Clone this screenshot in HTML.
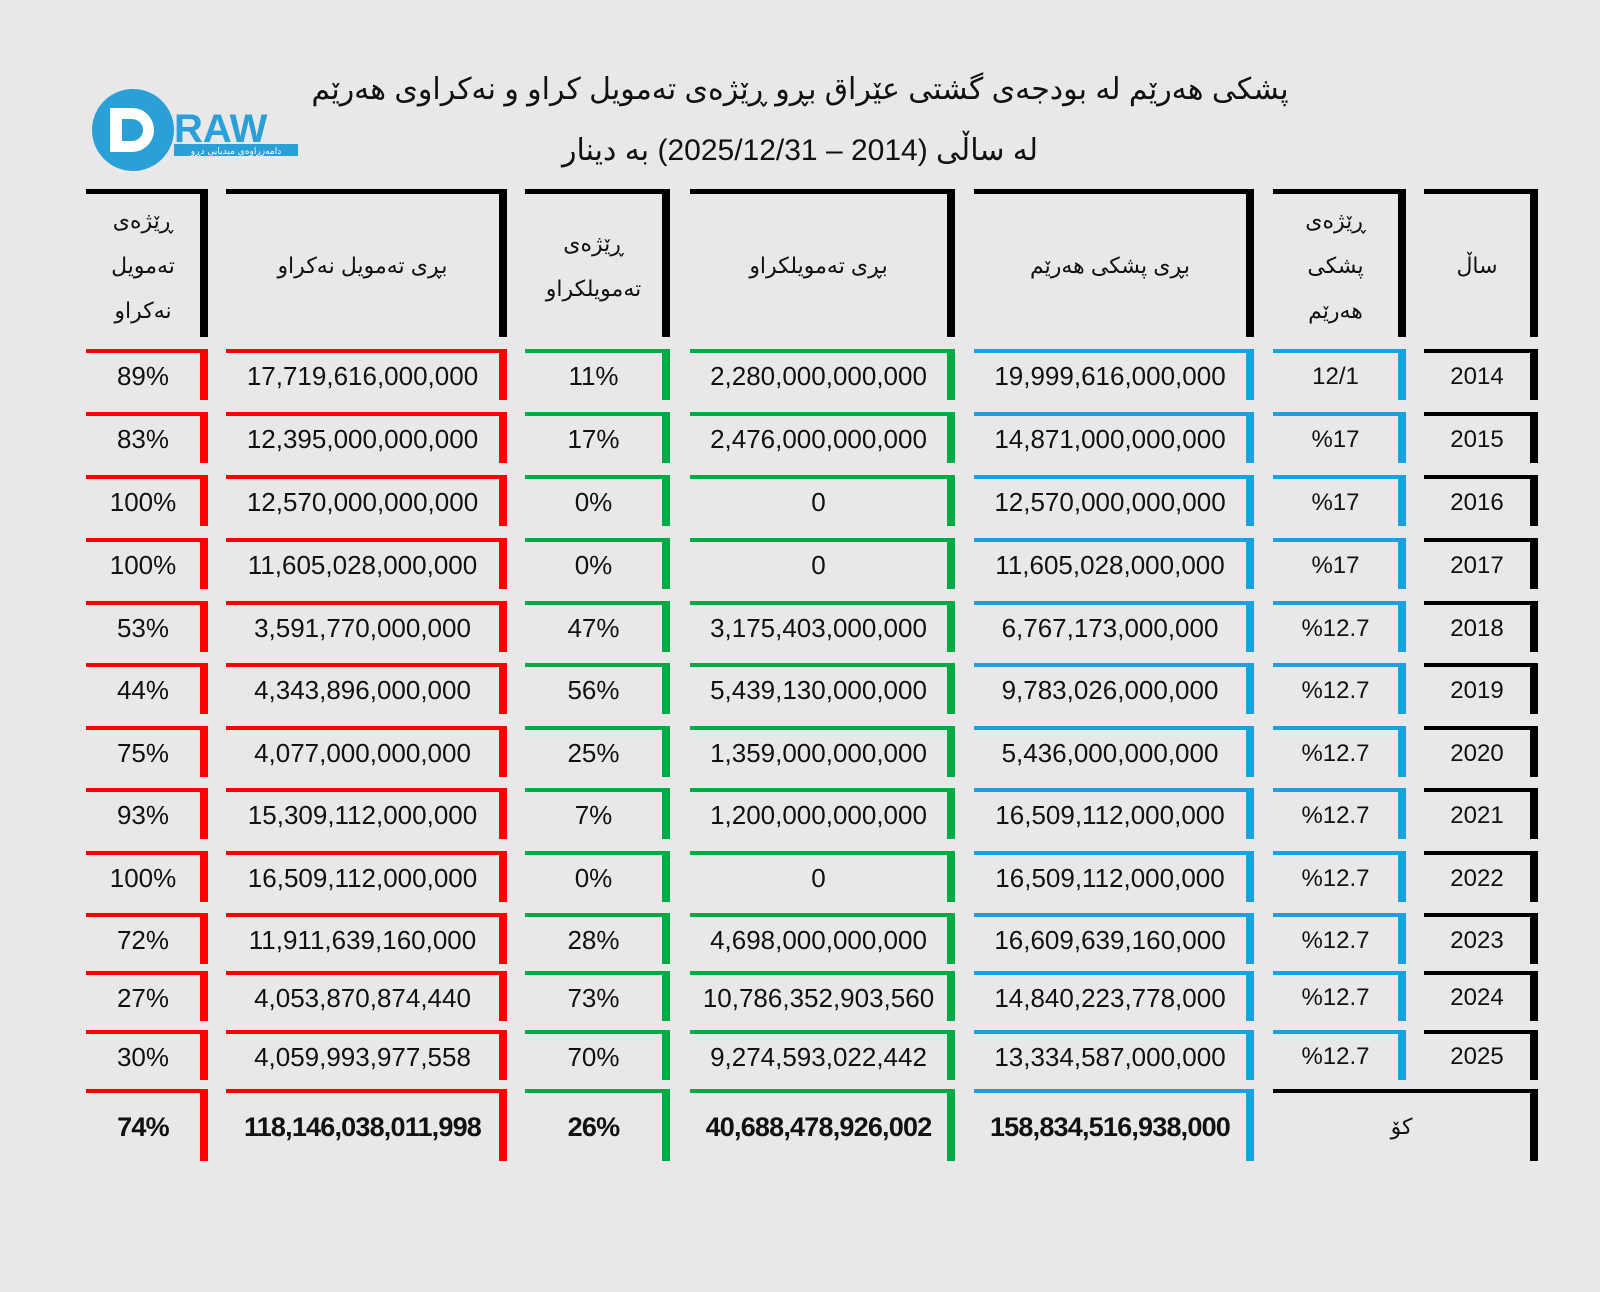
<!DOCTYPE html>
<html><head><meta charset="utf-8">
<style>
body{margin:0;width:1600px;height:1292px;background:#e8e8e8;overflow:hidden;position:relative;font-family:"Liberation Sans","DejaVu Sans",sans-serif;color:#111}
.c{position:absolute;box-sizing:border-box;display:flex;align-items:center;justify-content:center;text-align:center;font-size:26px}
.t{position:absolute;left:0;width:1600px;text-align:center;font-size:30px;direction:rtl}
</style></head><body>
<div class="t" style="top:72px">پشکی هەرێم لە بودجەی گشتی عێراق  بڕو ڕێژەی تەمویل کراو و نەکراوی هەرێم</div>
<div class="t" style="top:133px">لە ساڵی (2014 – 2025/12/31) بە دینار</div>
<svg style="position:absolute;left:88px;top:86px" width="225" height="90">
<circle cx="45" cy="44" r="41" fill="#2a9fd8"/>
<path d="M22 22 h22 a22 22 0 0 1 0 44 h-22 z M34 33 v22 h10 a11 11 0 0 0 0 -22 z" fill="#fff"/>
<text x="86" y="56" font-size="40" font-weight="bold" fill="#2a9fd8" font-family="Liberation Sans">RAW</text>
<rect x="86" y="58" width="124" height="12" fill="#2a9fd8"/>
<text x="148" y="68" font-size="9" fill="#fff" text-anchor="middle" font-family="DejaVu Sans">دامەزراوەی میدیایی دڕو</text>
</svg>
<div id="tbl"></div>
<script>
const headers=["ڕێژەی<br>تەمویل<br>نەکراو","بڕی تەمویل نەکراو","ڕێژەی<br>تەمویلکراو","بڕی تەمویلکراو","بڕی پشکی هەرێم","ڕێژەی<br>پشکی<br>هەرێم","ساڵ"];
const years=["2014","2015","2016","2017","2018","2019","2020","2021","2022","2023","2024","2025"];
const shareRate=["12/1","%17","%17","%17","%12.7","%12.7","%12.7","%12.7","%12.7","%12.7","%12.7","%12.7"];
const shareAmount=["19,999,616,000,000","14,871,000,000,000","12,570,000,000,000","11,605,028,000,000","6,767,173,000,000","9,783,026,000,000","5,436,000,000,000","16,509,112,000,000","16,509,112,000,000","16,609,639,160,000","14,840,223,778,000","13,334,587,000,000"];
const funded=["2,280,000,000,000","2,476,000,000,000","0","0","3,175,403,000,000","5,439,130,000,000","1,359,000,000,000","1,200,000,000,000","0","4,698,000,000,000","10,786,352,903,560","9,274,593,022,442"];
const fundedPct=["11%","17%","0%","0%","47%","56%","25%","7%","0%","28%","73%","70%"];
const unfunded=["17,719,616,000,000","12,395,000,000,000","12,570,000,000,000","11,605,028,000,000","3,591,770,000,000","4,343,896,000,000","4,077,000,000,000","15,309,112,000,000","16,509,112,000,000","11,911,639,160,000","4,053,870,874,440","4,059,993,977,558"];
const unfundedPct=["89%","83%","100%","100%","53%","44%","75%","93%","100%","72%","27%","30%"];
const totals=["74%","118,146,038,011,998","26%","40,688,478,926,002","158,834,516,938,000","کۆ"];
const cols=[[86,208],[226,507],[525,670],[690,955],[974,1254],[1273,1406],[1424,1538]];
const colors=["#f00","#f00","#0a4","#0a4","#1ba1e2","#1ba1e2","#000"];
const rowTops=[349,412,475,538,601,663,726,788,851,913,971,1030];
const T=document.getElementById('tbl');
function cell(x1,x2,y,h,txt,col,name,extra){
  const d=document.createElement('div');d.className='c';
  
  
  d.style.cssText+=`left:${x1}px;top:${y}px;width:${x2-x1}px;height:${h}px;border-top:4px solid ${col};border-right:8px solid ${col};`+(extra||'');
  d.innerHTML=txt;T.appendChild(d);
}
headers.forEach((h,i)=>cell(cols[i][0],cols[i][1],189,148,h,'#000','header-'+i,'font-size:22px;line-height:45px;direction:rtl;border-top-width:5px;'));
years.forEach((y,r)=>{
  const vals=[unfundedPct[r],unfunded[r],fundedPct[r],funded[r],shareAmount[r],shareRate[r],y];
  vals.forEach((v,i)=>cell(cols[i][0],cols[i][1],rowTops[r],r>=10?50:51,v,colors[i],'cell-'+y+'-'+i,i>=5?'font-size:24px;':''));
});
totals.forEach((v,i)=>{
  if(i<5)cell(cols[i][0],cols[i][1],1089,72,v,colors[i],'total-'+i,'font-weight:bold;font-size:27px;letter-spacing:-0.8px;');
  else cell(cols[5][0],cols[6][1],1089,72,v,'#000','total-label','direction:rtl;font-size:22px;');
});
</script>
</body></html>
